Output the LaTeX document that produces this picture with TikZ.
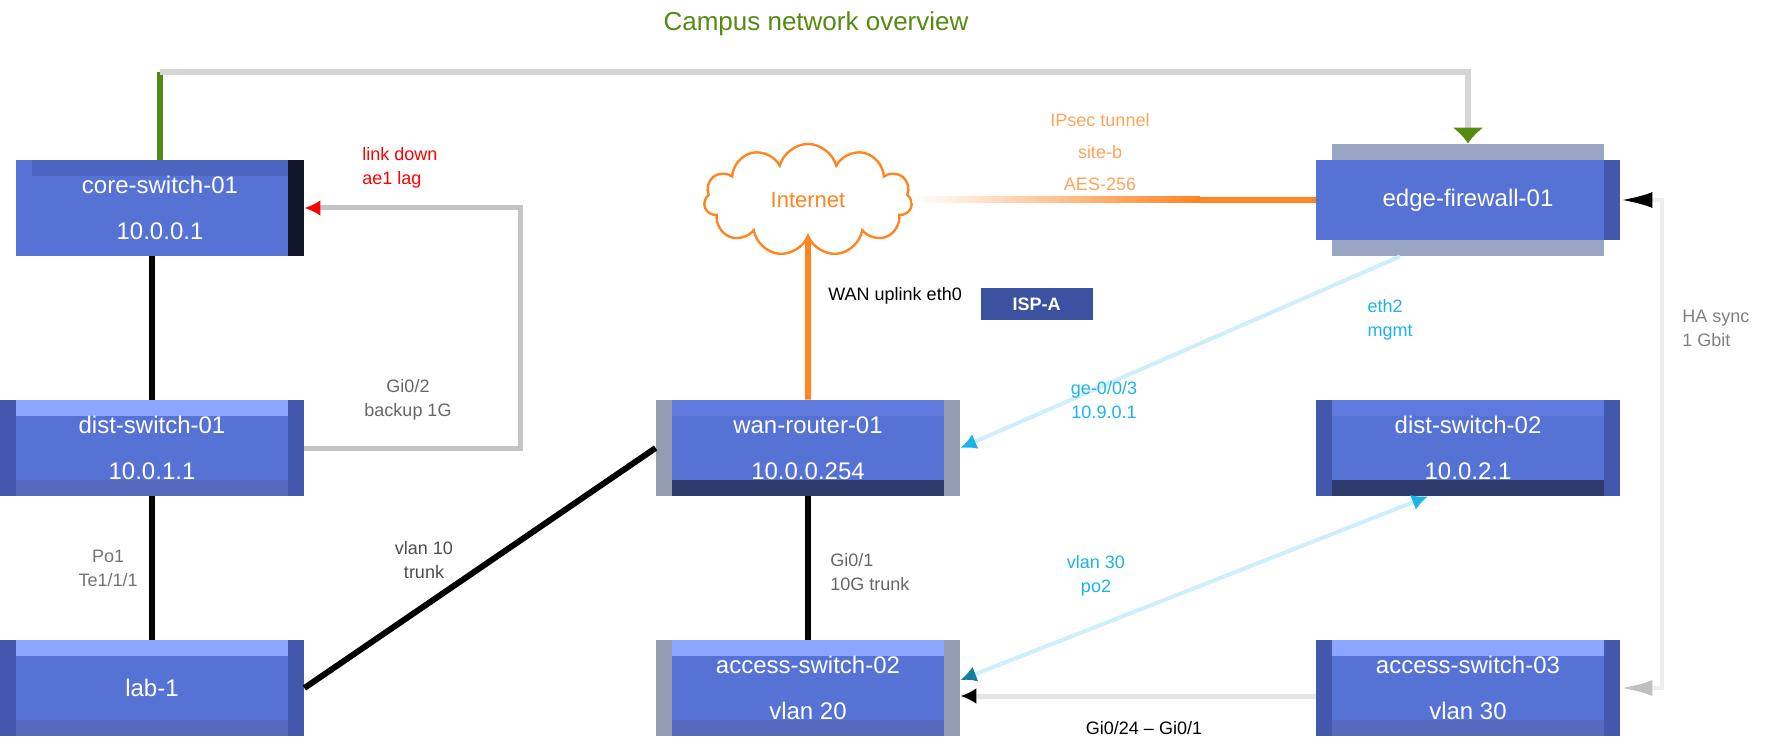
\documentclass[tikz,border=0pt]{standalone}
\usepackage{fontspec}
\setmainfont{Liberation Sans}
\usetikzlibrary{calc, positioning, arrows.meta, shapes.symbols, backgrounds}

\definecolor{devfill}{HTML}{5672D4}
\definecolor{devside}{HTML}{4258AE}
\definecolor{devtop}{HTML}{8CA6FF}
\definecolor{devlow}{HTML}{5569BF}
\definecolor{devdark}{HTML}{2E3A6B}
\definecolor{devsoft}{HTML}{6079DD}
\definecolor{devgray}{HTML}{939BB0}
\definecolor{aband}{HTML}{4C66BF}
\definecolor{aedge}{HTML}{11162A}
\definecolor{hagray}{HTML}{9AA5C4}
\definecolor{linkgreen}{HTML}{558B10}
\definecolor{wanorange}{HTML}{FF8422}
\definecolor{mgmtcyan}{HTML}{1AB4E8}
\definecolor{badgeblue}{HTML}{3B52A0}
\definecolor{railgray}{HTML}{D6D6D6}
\definecolor{bypassgray}{HTML}{C4C4C4}

\begin{document}
\begin{tikzpicture}[x=0.5pt, y=-0.5pt]
	\tikzstyle{dev}=[rectangle, fill=devfill, text=white, inner sep=0pt, minimum width=152pt, minimum height=48pt, align=center, font=\fontsize{12}{14}\selectfont]
	\tikzset{bands/.style n args={4}{path picture={
		\fill [#1] (path picture bounding box.north west) rectangle ([yshift=-8pt]path picture bounding box.north east);
		\fill [#2] (path picture bounding box.south west) rectangle ([yshift=8pt]path picture bounding box.south east);
		\fill [#3] (path picture bounding box.north west) rectangle ([xshift=8pt]path picture bounding box.south west);
		\fill [#4] (path picture bounding box.north east) rectangle ([xshift=-8pt]path picture bounding box.south east);
	}}}
	\tikzstyle{trunk}=[line width=3pt, black]
	\tikzstyle{rail}=[line width=3pt, railgray]
	\tikzstyle{monitor}=[line width=3pt, linkgreen]
	\tikzstyle{wan}=[line width=3pt, wanorange]
	\tikzstyle{bypass}=[line width=2.5pt, bypassgray]
	\tikzstyle{mgmt}=[line width=2pt, mgmtcyan!22]
	\tikzstyle{access}=[line width=2.5pt, black!10]
	\tikzstyle{halink}=[line width=2pt, black!7]
	\tikzstyle{lbl}=[font=\fontsize{9}{12}\selectfont, inner sep=1pt, align=center]
	\tikzstyle{badge}=[fill=badgeblue, text=white, minimum width=56pt, minimum height=16pt, inner sep=1pt, font=\fontsize{9}{11}\selectfont\bfseries]

	\def\colL{152};
	\def\colM{808};
	\def\colR{1468};
	\def\rowT{208};
	\def\rowM{448};
	\def\rowB{688};

	\useasboundingbox (0,0) rectangle (1773,754);

	\begin{scope}
		\node [text=linkgreen, font=\fontsize{13}{15}\selectfont] (title) at (816,24) {Campus network overview};
	\end{scope}

	\begin{scope}
		\node [dev, minimum width=144pt, bands={aband}{devfill}{devfill}{aedge}] (core) at (\colL+8,\rowT) {core-switch-01\\[9pt]10.0.0.1};
		\node [dev, bands={devtop}{devlow}{devside}{devside}] (dist1) at (\colL,\rowM) {dist-switch-01\\[9pt]10.0.1.1};
		\node [dev, bands={devtop}{devlow}{devside}{devside}] (lab) at (\colL,\rowB) {lab-1};

		\node [dev, minimum height=40pt, bands={devfill}{devfill}{devfill}{devside}] (fw) at (\colR,200) {edge-firewall-01};
		\node [dev, bands={devsoft}{devdark}{devside}{devside}] (dist2) at (\colR,\rowM) {dist-switch-02\\[9pt]10.0.2.1};
		\node [dev, bands={devtop}{devlow}{devside}{devside}] (acc3) at (\colR,\rowB) {access-switch-03\\[9pt]vlan 30};

		\node [dev, bands={devsoft}{devdark}{devgray}{devgray}] (rtr) at (\colM,\rowM) {wan-router-01\\[9pt]10.0.0.254};
		\node [dev, bands={devtop}{devlow}{devgray}{devgray}] (acc2) at (\colM,\rowB) {access-switch-02\\[9pt]vlan 20};

		\node [cloud, draw=wanorange, line width=1.2pt, text=wanorange, cloud puffs=11, aspect=2, minimum width=104pt, minimum height=56pt, font=\fontsize{11}{13}\selectfont] (inet) at (\colM,200) {Internet};
	\end{scope}

	\begin{scope}[on background layer]
		\fill [hagray] ([xshift=8pt,yshift=8pt]fw.north west) rectangle ([xshift=-8pt,yshift=-8pt]fw.south east);
	\end{scope}

	\begin{scope}
		\coordinate (rail) at (0,72);
		\draw [monitor] (core.north) -- (core.north |- rail);
		\draw [rail, -{Latex[linkgreen, length=8pt, width=16pt]}] (core.north |- rail) -- (fw.north |- rail) -- ([yshift=8pt]fw.north);
	\end{scope}

	\begin{scope}
		\draw [trunk] (core.south -| dist1.north) -- (dist1.north);
		\draw [trunk] (dist1) -- (lab);
		\draw [trunk] (lab.east) -- (rtr.west);
		\draw [trunk] (rtr) -- (acc2);
		\node [lbl, text=black!55, anchor=east] (po) at (140,568) {Po1\\Te1/1/1};
		\node [lbl, text=black!70] (trk) at (424,560) {vlan 10\\trunk};
		\node [lbl, text=black!60, anchor=west, align=left] (rtrlnk) at (828,572) {Gi0/1\\10G trunk};
	\end{scope}

	\begin{scope}
		\draw [bypass, {Latex[red, length=8pt, width=8pt]}-] (core.east) -- ++(216,0) |- (dist1.east);
		\node [lbl, text=red, align=left] (downtag) at (400,168) {link down\\ae1 lag};
		\node [lbl, text=black!60] (bkp) at (408,400) {Gi0/2\\backup 1G};
	\end{scope}

	\begin{scope}
		\coordinate (wanfade) at (1200,200);
		\shade [left color=white, right color=wanorange] ($ (inet.east) + (0,-3) $) rectangle ($ (wanfade) + (0,3) $);
		\draw [wan] (wanfade) -- (fw.west);
		\draw [wan] (inet.south) -- (rtr.north);
		\node [lbl, text=wanorange!75, font=\fontsize{9}{16}\selectfont] (vpn) at (1100,152) {IPsec tunnel\\site-b\\AES-256};
		\node [lbl, anchor=west] (wanlbl) at (826,296) {WAN uplink eth0};
		\node [badge, right=8pt of wanlbl, yshift=-4pt] (isp) {ISP-A};
	\end{scope}

	\begin{scope}
		\draw [mgmt, {Latex[mgmtcyan, length=8pt, width=8pt]}-] (rtr.east) -- ([xshift=-34pt,yshift=-8pt]fw.south);
		\node [lbl, text=mgmtcyan] (getag) at (1104,400) {ge-0/0/3\\10.9.0.1};
		\node [lbl, text=mgmtcyan, align=left] (ethtwo) at (1390,320) {eth2\\mgmt};

		\draw [mgmt, {Latex[mgmtcyan!70!black, length=8pt, width=8pt]}-{Latex[mgmtcyan, length=8pt, width=8pt]}] ([yshift=4pt]acc2.east) -- ([xshift=-20pt]dist2.south);
		\node [lbl, text=mgmtcyan] (lacp) at (1096,576) {vlan 30\\po2};
	\end{scope}

	\begin{scope}
		\draw [access, {Latex[black, length=8pt, width=8pt]}-] ([yshift=-4pt]acc2.east) -- ([yshift=-4pt]acc3.west);
		\node [lbl] (gi) at (1144,728) {Gi0/24 -- Gi0/1};
		\draw [halink, {Latex[black, length=16pt, width=8pt]}-{Latex[black!25, length=16pt, width=8pt]}] (fw.east) -- ++(42,0) |- (acc3.east);
		\node [lbl, text=black!50, anchor=west, align=left] (hasync) at (1680,328) {HA sync\\1 Gbit};
	\end{scope}
\end{tikzpicture}
\end{document}
